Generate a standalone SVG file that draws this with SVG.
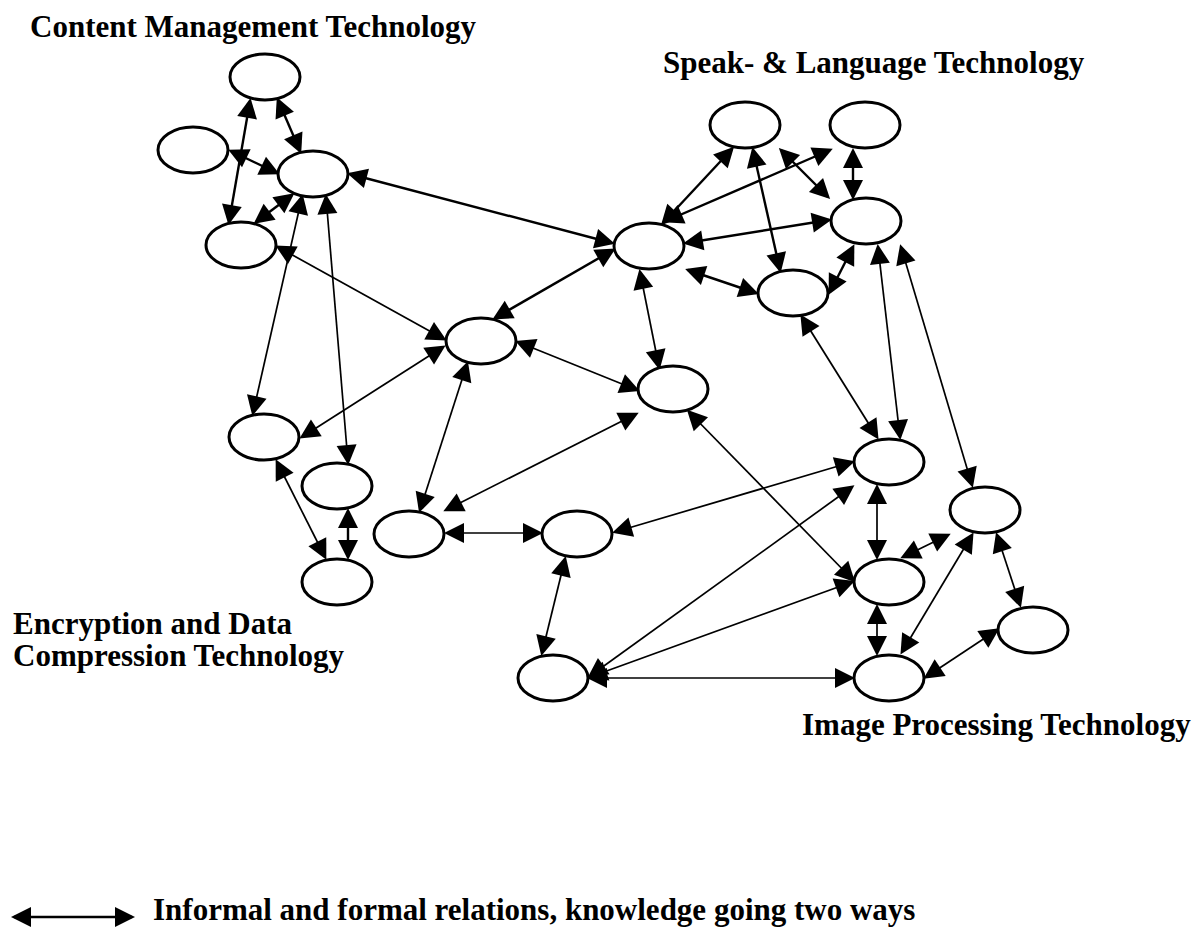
<svg xmlns="http://www.w3.org/2000/svg" width="1203" height="929" viewBox="0 0 1203 929">
<style>
.c{stroke:#000;fill:none;marker-start:url(#ah);marker-end:url(#ah)}
.t{stroke-width:2.4}
.n{stroke-width:1.7}
.node ellipse{fill:#fff;stroke:#000;stroke-width:3}
.lbl{font-family:"Liberation Serif","Times New Roman",serif;font-weight:bold;font-size:31px;fill:#000}
</style>
<defs>
<marker id="ah" markerUnits="userSpaceOnUse" markerWidth="20" markerHeight="20" refX="17" refY="10" orient="auto-start-reverse" overflow="visible">
<path d="M0,0 L20,10 L0,20 z" fill="#000"/>
</marker>
</defs>
<rect width="1203" height="929" fill="#fff"/>
<g id="connectors">
<line class="c t" x1="250" y1="101" x2="229" y2="222"/>
<line class="c t" x1="278" y1="100" x2="300" y2="151"/>
<line class="c t" x1="231" y1="151" x2="277" y2="173"/>
<line class="c t" x1="256" y1="222" x2="292" y2="195"/>
<line class="c n" x1="302" y1="197" x2="253" y2="413"/>
<line class="c n" x1="326" y1="197" x2="348" y2="462"/>
<line class="c n" x1="278" y1="247" x2="444" y2="339"/>
<line class="c t" x1="350" y1="174" x2="612" y2="243"/>
<line class="c t" x1="495" y1="318" x2="613" y2="250"/>
<line class="c n" x1="518" y1="342" x2="637" y2="390"/>
<line class="c n" x1="467" y1="364" x2="420" y2="510"/>
<line class="c n" x1="446" y1="510" x2="636" y2="414"/>
<line class="c n" x1="447" y1="533" x2="540" y2="533"/>
<line class="c n" x1="615" y1="532" x2="852" y2="462"/>
<line class="c n" x1="565" y1="559" x2="542" y2="653"/>
<line class="c n" x1="590" y1="678" x2="852" y2="678"/>
<line class="c n" x1="590" y1="676" x2="852" y2="487"/>
<line class="c n" x1="590" y1="677" x2="852" y2="582"/>
<line class="c n" x1="689" y1="412" x2="853" y2="580"/>
<line class="c n" x1="640" y1="272" x2="659" y2="367"/>
<line class="c t" x1="732" y1="149" x2="663" y2="223"/>
<line class="c t" x1="666" y1="221" x2="830" y2="150"/>
<line class="c t" x1="781" y1="150" x2="828" y2="197"/>
<line class="c t" x1="853" y1="151" x2="853" y2="197"/>
<line class="c t" x1="753" y1="150" x2="780" y2="270"/>
<line class="c t" x1="686" y1="243" x2="829" y2="220"/>
<line class="c t" x1="688" y1="270" x2="756" y2="293"/>
<line class="c t" x1="830" y1="292" x2="853" y2="247"/>
<line class="c n" x1="878" y1="247" x2="900" y2="437"/>
<line class="c n" x1="901" y1="247" x2="972" y2="485"/>
<line class="c n" x1="802" y1="317" x2="877" y2="437"/>
<line class="c n" x1="877" y1="487" x2="877" y2="557"/>
<line class="c n" x1="903" y1="557" x2="948" y2="535"/>
<line class="c n" x1="877" y1="607" x2="877" y2="653"/>
<line class="c n" x1="902" y1="652" x2="972" y2="535"/>
<line class="c n" x1="997" y1="535" x2="1020" y2="605"/>
<line class="c n" x1="926" y1="677" x2="997" y2="630"/>
<line class="c n" x1="277" y1="462" x2="325" y2="557"/>
<line class="c t" x1="348" y1="511" x2="348" y2="557"/>
<line class="c n" x1="443" y1="347" x2="302" y2="437"/>
</g>
<g id="n-a" class="node"><ellipse cx="265" cy="77" rx="35" ry="23"/></g>
<g id="n-b" class="node"><ellipse cx="193" cy="150" rx="35" ry="23"/></g>
<g id="n-c" class="node"><ellipse cx="313" cy="174" rx="35" ry="23"/></g>
<g id="n-d" class="node"><ellipse cx="241" cy="245" rx="35" ry="23"/></g>
<g id="n-e" class="node"><ellipse cx="481" cy="341" rx="35" ry="23"/></g>
<g id="n-f" class="node"><ellipse cx="745" cy="125" rx="35" ry="23"/></g>
<g id="n-g" class="node"><ellipse cx="865" cy="125" rx="35" ry="23"/></g>
<g id="n-h" class="node"><ellipse cx="866" cy="221" rx="35" ry="23"/></g>
<g id="n-i" class="node"><ellipse cx="649" cy="246" rx="35" ry="23"/></g>
<g id="n-j" class="node"><ellipse cx="793" cy="293" rx="35" ry="23"/></g>
<g id="n-k" class="node"><ellipse cx="673" cy="389" rx="35" ry="23"/></g>
<g id="n-l" class="node"><ellipse cx="264" cy="437" rx="35" ry="23"/></g>
<g id="n-m" class="node"><ellipse cx="337" cy="486" rx="35" ry="23"/></g>
<g id="n-n" class="node"><ellipse cx="409" cy="534" rx="35" ry="23"/></g>
<g id="n-o" class="node"><ellipse cx="577" cy="534" rx="35" ry="23"/></g>
<g id="n-p" class="node"><ellipse cx="337" cy="582" rx="35" ry="23"/></g>
<g id="n-q" class="node"><ellipse cx="889" cy="462" rx="35" ry="23"/></g>
<g id="n-r" class="node"><ellipse cx="985" cy="510" rx="35" ry="23"/></g>
<g id="n-s" class="node"><ellipse cx="889" cy="582" rx="35" ry="23"/></g>
<g id="n-t" class="node"><ellipse cx="1033" cy="630" rx="35" ry="23"/></g>
<g id="n-u" class="node"><ellipse cx="889" cy="678" rx="35" ry="23"/></g>
<g id="n-v" class="node"><ellipse cx="553" cy="678" rx="35" ry="23"/></g>
<g id="labels">
<text class="lbl" x="30" y="37">Content Management Technology</text>
<text class="lbl" x="663" y="73">Speak- &amp; Language Technology</text>
<text class="lbl" x="13" y="634">Encryption and Data<tspan x="13" y="666">Compression Technology</tspan></text>
<text class="lbl" x="802" y="735">Image Processing Technology</text>
</g>
<g id="legend">
<line class="c t" x1="14" y1="917" x2="132" y2="917"/>
<text class="lbl" x="153" y="920">Informal and formal relations, knowledge going two ways</text>
</g>
</svg>
